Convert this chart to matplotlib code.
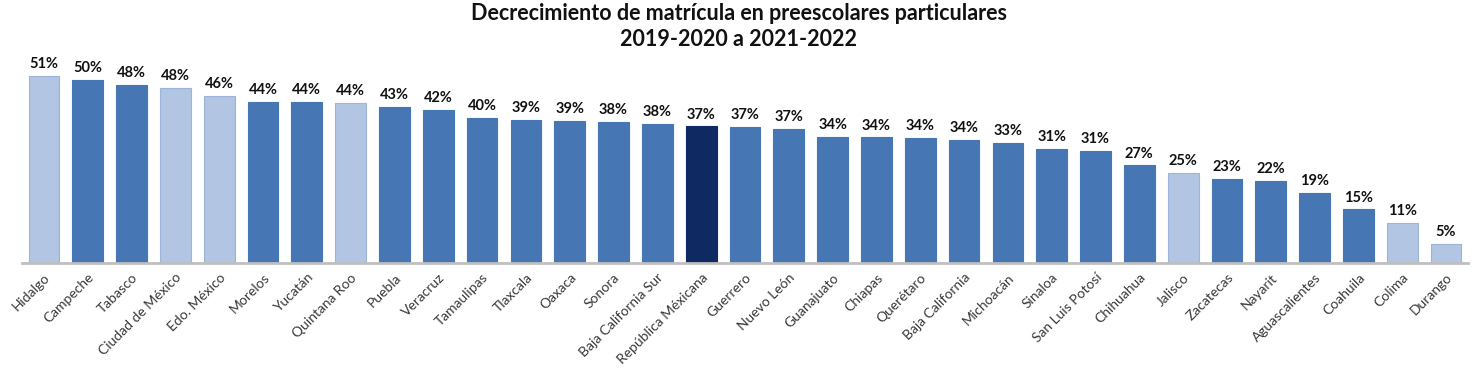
import matplotlib
matplotlib.use("Agg")
import matplotlib.pyplot as plt

estados = ["Hidalgo", "Campeche", "Tabasco", "Ciudad de México", "Edo. México", "Morelos",
           "Yucatán", "Quintana Roo", "Puebla", "Veracruz", "Tamaulipas", "Tlaxcala", "Oaxaca",
           "Sonora", "Baja California Sur", "República Méxicana", "Guerrero", "Nuevo León",
           "Guanajuato", "Chiapas", "Querétaro", "Baja California", "Michoacán", "Sinaloa",
           "San Luis Potosí", "Chihuahua", "Jalisco", "Zacatecas", "Nayarit", "Aguascalientes",
           "Coahuila", "Colima", "Durango"]
decrecimiento = [51.0, 49.9, 48.4, 47.7, 45.6, 43.9, 43.8, 43.5, 42.6, 41.6, 39.6, 39.0, 38.7,
                 38.4, 37.9, 37.2, 37.1, 36.6, 34.3, 34.2, 34.1, 33.6, 32.8, 31.1, 30.6, 26.6,
                 24.6, 22.9, 22.3, 19.1, 14.6, 10.9, 5.2]
resaltados_claros = ["Hidalgo", "Ciudad de México", "Edo. México", "Quintana Roo", "Jalisco",
                     "Colima", "Durango"]
nacional = "República Méxicana"

c_dark = "#4676B4"
c_light = "#B2C5E3"
c_nat = "#0F2A63"

colors = []
edges = []
for e in estados:
    if e == nacional:
        colors.append(c_nat); edges.append(c_nat)
    elif e in resaltados_claros:
        colors.append(c_light); edges.append("#9DB4DA")
    else:
        colors.append(c_dark); edges.append(c_dark)

fig = plt.figure(figsize=(14.78, 3.72), dpi=100)
ax = fig.add_axes([22/1478, 109/372, 1446/1478, 202/372])

x = list(range(len(estados)))
bars = ax.bar(x, decrecimiento, width=0.7, color=colors, edgecolor=edges, linewidth=0.8, zorder=2)

for xi, v in zip(x, decrecimiento):
    ax.text(xi, v + 1.3, f"{round(v)}%", ha="center", va="bottom", fontsize=10.5,
            fontweight="bold", color="#111111", family="Lato")

ax.set_xlim(-0.5, len(estados) - 0.5)
ax.set_ylim(0, 55)
ax.set_yticks([])
for s in ["top", "right", "left"]:
    ax.spines[s].set_visible(False)
ax.spines["bottom"].set_color("#BFBFBF")
ax.spines["bottom"].set_linewidth(2)
ax.set_xticks(x)
ax.set_xticklabels(estados, rotation=45, ha="right", rotation_mode="anchor",
                   fontsize=10, color="#383838", family="Lato")
ax.tick_params(axis="x", length=0, pad=6)

fig.text(0.5, 1 - 13/372, "Decrecimiento de matrícula en preescolares particulares",
         ha="center", va="center", fontsize=15.5, fontweight="bold", family="Lato", color="#111111")
fig.text(0.5, 1 - 39/372, "2019-2020 a 2021-2022",
         ha="center", va="center", fontsize=15.5, fontweight="bold", family="Lato", color="#111111")

fig.savefig("out.png", dpi=100, facecolor="white")
